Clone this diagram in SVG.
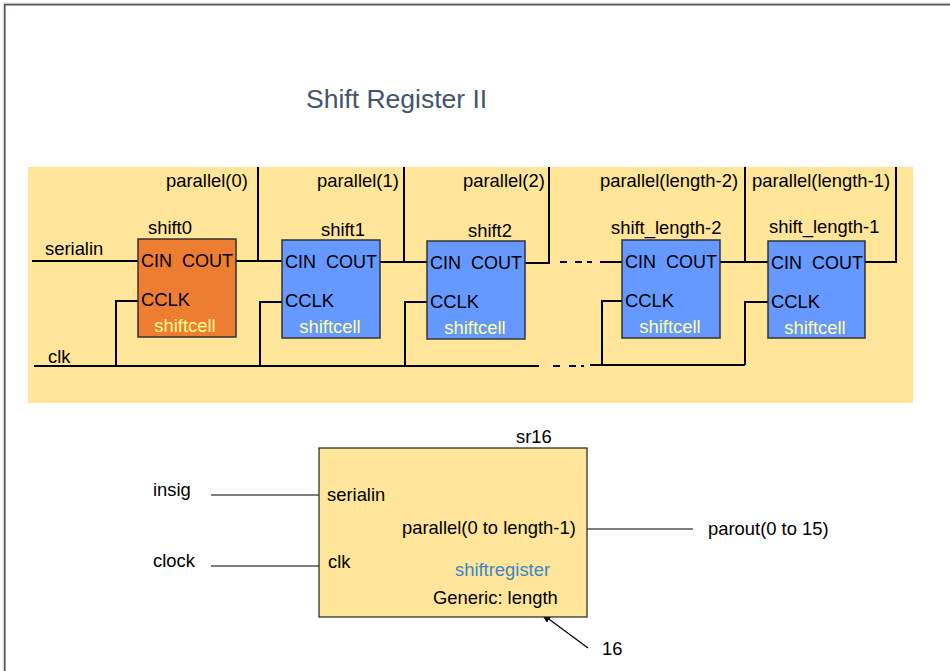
<svg xmlns="http://www.w3.org/2000/svg" width="950" height="671" viewBox="0 0 950 671">
<style>
text{font-family:"Liberation Sans",Arial,sans-serif;font-size:18.4px;fill:#000}
.p{font-size:18px}
.w{stroke:#000;stroke-width:2;fill:none}
.t{stroke:#000;stroke-width:1.2;fill:none}
.cell{stroke:#333;stroke-width:1.5}
.blue{fill:#6699FF}
.or{fill:#ED7D31}
.sc{fill:#FFFF99}
</style>
<defs>
<marker id="ah" markerWidth="10" markerHeight="8" refX="9" refY="4" orient="auto" markerUnits="userSpaceOnUse">
<path d="M0,0 L10,4 L0,8 Z" fill="#000"/>
</marker>
</defs>
<rect width="950" height="671" fill="#fff"/>
<path d="M3.2,671 V3 H950" stroke="#D0D8EA" stroke-width="1.2" fill="none"/>
<path d="M4.8,671 V4.6 H950" stroke="#555" stroke-width="1.6" fill="none"/>
<text x="306" y="108" style="font-size:26.5px;fill:#44546A">Shift Register II</text>
<rect id="panel" x="28" y="167" width="885" height="236" fill="#FEE599"/>
<g id="connectors">
<path class="w" d="M32,261 H138"/>
<path class="w" d="M236,261 H282 M258,167 V261"/>
<path class="w" d="M380,262 H427 M404,167 V262"/>
<path class="w" d="M525,263 H549 V167"/>
<path class="w" d="M560,262 H567 M575,262 H582 M587,262 H592 M600,262 H622"/>
<path class="w" d="M720,262 H768 M745,167 V262"/>
<path class="w" d="M865,262 H896 V167"/>
<path class="w" d="M34,366 H539 M553,366 H560 M569,366 H576 M581,366 H584 M590,365 H745"/>
<path class="w" d="M138,301 H116 V366"/>
<path class="w" d="M282,302 H260 V366"/>
<path class="w" d="M427,302 H405 V366"/>
<path class="w" d="M622,301 H602 V365"/>
<path class="w" d="M768,302 H745 V365"/>
<path class="t" d="M211,495 H319 M211,566 H319 M587,529 H693"/>
<path class="t" d="M588,648 L542,614" marker-end="url(#ah)"/>
</g>
<g id="labels">
<text x="166" y="187">parallel(0)</text>
<text x="317" y="187">parallel(1)</text>
<text x="463" y="187">parallel(2)</text>
<text x="600" y="187">parallel(length-2)</text>
<text x="752" y="187">parallel(length-1)</text>
<text x="45" y="255">serialin</text>
<text x="48" y="363">clk</text>
</g>
<g id="shift0">
<text x="148" y="234">shift0</text>
<rect class="cell or" x="138" y="239" width="98" height="98"/>
<text class="p" x="141" y="267" xml:space="preserve">CIN  COUT</text>
<text x="141" y="306">CCLK</text>
<text class="sc" x="185" y="332" text-anchor="middle">shiftcell</text>
</g>
<g id="shift1">
<text x="321" y="236">shift1</text>
<rect class="cell blue" x="282" y="240" width="98" height="98"/>
<text class="p" x="285" y="268" xml:space="preserve">CIN  COUT</text>
<text x="285" y="307">CCLK</text>
<text class="sc" x="330" y="333" text-anchor="middle">shiftcell</text>
</g>
<g id="shift2">
<text x="468" y="237">shift2</text>
<rect class="cell blue" x="427" y="241" width="98" height="98"/>
<text class="p" x="430" y="269" xml:space="preserve">CIN  COUT</text>
<text x="430" y="308">CCLK</text>
<text class="sc" x="475" y="334" text-anchor="middle">shiftcell</text>
</g>
<g id="shift_length-2">
<text x="611" y="234">shift_length-2</text>
<rect class="cell blue" x="622" y="240" width="98" height="98"/>
<text class="p" x="625" y="268" xml:space="preserve">CIN  COUT</text>
<text x="625" y="307">CCLK</text>
<text class="sc" x="670" y="333" text-anchor="middle">shiftcell</text>
</g>
<g id="shift_length-1">
<text x="769" y="233">shift_length-1</text>
<rect class="cell blue" x="768" y="241" width="97" height="97"/>
<text class="p" x="771" y="269" xml:space="preserve">CIN  COUT</text>
<text x="771" y="308">CCLK</text>
<text class="sc" x="815" y="334" text-anchor="middle">shiftcell</text>
</g>
<g id="sr16">
<text x="516" y="443">sr16</text>
<rect x="319" y="448" width="268" height="169" fill="#FEE599" stroke="#222" stroke-width="1.2"/>
<text x="327" y="501">serialin</text>
<text x="402" y="534">parallel(0 to length-1)</text>
<text x="328" y="568">clk</text>
<text x="455" y="576" style="fill:#3D85C6">shiftregister</text>
<text x="433" y="604">Generic: length</text>
</g>
<g id="ext">
<text x="153" y="496">insig</text>
<text x="153" y="567">clock</text>
<text x="708" y="535">parout(0 to 15)</text>
<text x="602" y="655">16</text>
</g>
</svg>
